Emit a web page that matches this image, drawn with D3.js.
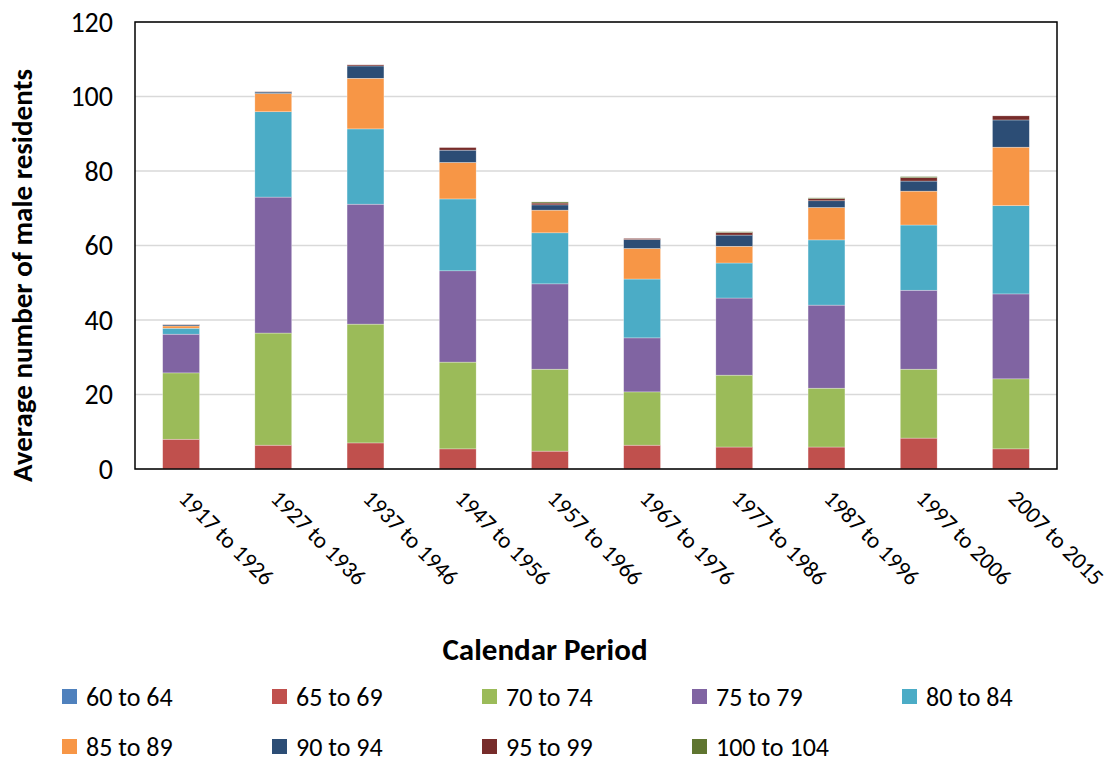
<!DOCTYPE html>
<html><head><meta charset="utf-8">
<script src="https://cdn.jsdelivr.net/npm/d3@7"></script>
<style>body{margin:0;background:#fff;font-family:Calibri,Carlito,Lato,sans-serif}</style>
</head><body><svg width="1109" height="763"></svg>
<script>
var periods = ['1917 to 1926','1927 to 1936','1937 to 1946','1947 to 1956','1957 to 1966','1967 to 1976','1977 to 1986','1987 to 1996','1997 to 2006','2007 to 2015'];
var ageGroups = ['60 to 64','65 to 69','70 to 74','75 to 79','80 to 84','85 to 89','90 to 94','95 to 99','100 to 104'];
var colors = ['#4F81BD','#C0504D','#9BBB59','#8064A2','#4BACC6','#F79646','#2C4D75','#772C2A','#5F7530'];
var age60 = [0,0,0,0,0,0,0,0,0,0];
var age65 = [8.0,6.4,7.0,5.4,4.8,6.4,5.9,5.9,8.3,5.4];
var age70 = [17.8,30.1,31.9,23.3,22.0,14.3,19.3,15.8,18.5,18.8];
var age75 = [10.4,36.5,32.2,24.5,22.9,14.5,20.7,22.3,21.2,22.8];
var age80 = [1.6,22.9,20.2,19.3,13.7,15.8,9.4,17.5,17.5,23.7];
var age85 = [0.6,4.9,13.6,9.8,6.1,8.2,4.5,8.7,9.1,15.7];
var age90 = [0.3,0.4,3.3,3.3,1.4,2.4,3.0,1.8,2.7,7.3];
var age95 = [0.1,0.1,0.3,0.7,0.5,0.3,0.7,0.6,0.9,1.1];
var age100 = [0,0,0,0,0.3,0,0.2,0.2,0.3,0];
var series = [age60,age65,age70,age75,age80,age85,age90,age95,age100];
var yTicks = [0,20,40,60,80,100,120];

var svg = d3.select('svg');
var L = 135, R = 1057, T = 22, B = 469;
var x = d3.scaleBand().domain(periods).range([L, R]).paddingInner(0.6).paddingOuter(0.3);
var y = d3.scaleLinear().domain([0,120]).range([B, T]);

svg.append('g').selectAll('line').data(yTicks).join('line')
  .attr('x1', L).attr('x2', R).attr('y1', d => y(d)).attr('y2', d => y(d))
  .attr('stroke', '#d9d9d9').attr('stroke-width', 1.3);

var rows = periods.map(function (p, i) {
  var r = { period: p };
  ageGroups.forEach(function (a, j) { r[a] = series[j][i]; });
  return r;
});
var stacked = d3.stack().keys(ageGroups)(rows);
svg.append('g').selectAll('g').data(stacked).join('g')
  .attr('fill', (d, i) => colors[i])
  .selectAll('rect').data(d => d).join('rect')
  .attr('x', d => x(d.data.period)).attr('width', x.bandwidth())
  .attr('y', d => y(d[1])).attr('height', d => y(d[0]) - y(d[1]))
  .attr('stroke', '#fff').attr('stroke-width', 0.5).attr('stroke-opacity', 0.6);

svg.append('rect').attr('x', L).attr('y', T).attr('width', R - L).attr('height', B - T)
  .attr('fill', 'none').attr('stroke', '#000').attr('stroke-width', 1.5);

svg.append('g').selectAll('text').data(yTicks).join('text')
  .attr('x', 113).attr('y', d => y(d)).attr('dy', '0.35em').attr('text-anchor', 'end')
  .style('font-size', '28px').text(d => d);

svg.append('g').selectAll('text').data(periods).join('text')
  .attr('transform', d => 'translate(' + (x(d) + x.bandwidth() / 2 + 2) + ',' + (B + 25) + ') rotate(45)')
  .attr('dy', '0.35em').style('font-size', '23px').text(d => d);

svg.append('text').attr('transform', 'translate(32,' + ((T + B) / 2 + 30) + ') rotate(-90)')
  .attr('text-anchor', 'middle').style('font-size', '29px').style('font-weight', 'bold')
  .text('Average number of male residents');
svg.append('text').attr('x', 545).attr('y', 660).attr('text-anchor', 'middle')
  .style('font-size', '31px').style('font-weight', 'bold').text('Calendar Period');

var lg = svg.append('g').selectAll('g').data(ageGroups).join('g')
  .attr('transform', (d, i) => 'translate(' + (62 + (i % 5) * 210) + ',' + (697 + Math.floor(i / 5) * 50) + ')');
lg.append('rect').attr('x', 0).attr('y', -8).attr('width', 15).attr('height', 15).attr('fill', (d, i) => colors[i]);
lg.append('text').attr('x', 24).attr('dy', '0.35em').style('font-size', '26px').text(d => d);
</script></body></html>
